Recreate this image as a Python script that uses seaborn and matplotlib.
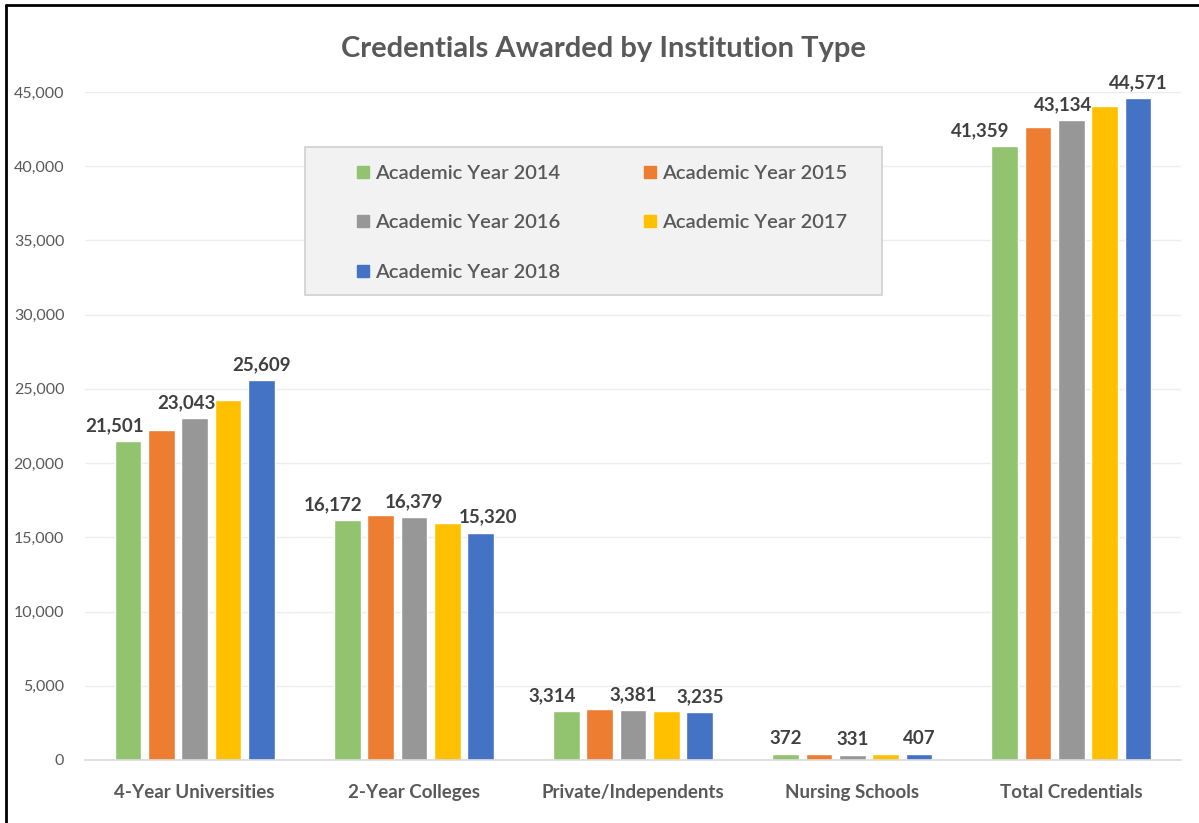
import pandas as pd
import matplotlib.pyplot as plt
import seaborn as sns
from matplotlib.ticker import FuncFormatter
from matplotlib.lines import Line2D
from matplotlib.patches import Rectangle

categories = ["4-Year Universities", "2-Year Colleges", "Private/Independents",
              "Nursing Schools", "Total Credentials"]
years = ["Academic Year 2014", "Academic Year 2015", "Academic Year 2016",
         "Academic Year 2017", "Academic Year 2018"]
ay2014 = [21501, 16172, 3314, 372, 41359]
ay2015 = [22200, 16530, 3400, 385, 42620]
ay2016 = [23043, 16379, 3381, 331, 43134]
ay2017 = [24280, 15950, 3320, 395, 44080]
ay2018 = [25609, 15320, 3235, 407, 44571]
labelled = ["Academic Year 2014", "Academic Year 2016", "Academic Year 2018"]

colors = ["#92C36F", "#ED7D31", "#979797", "#FFC000", "#4472C4"]
text_gray = "#595959"

# horizontal nudges (points) of the value labels, like Excel's placement
label_shift = {
    "Academic Year 2014": [-10, -10, -10, 0, -18],
    "Academic Year 2016": [-6, 0, 0, 0, -6],
    "Academic Year 2018": [0, 5, 0, 0, 0],
}

rows = []
for year, vals in zip(years, [ay2014, ay2015, ay2016, ay2017, ay2018]):
    for cat, v in zip(categories, vals):
        rows.append({"category": cat, "year": year, "value": v})
df = pd.DataFrame(rows)

sns.set_style("white")
plt.rcParams['font.family'] = ['Lato', 'DejaVu Sans']

fig = plt.figure(figsize=(11.99, 8.23), dpi=100)
ax = fig.add_axes([0.071, 0.0766, 0.914, 0.8116])

sns.barplot(data=df, x="category", y="value", hue="year", palette=colors,
            width=0.76, gap=0.2, ax=ax, legend=False, saturation=1)

ax.set_ylim(0, 45000)
ax.set_yticks(range(0, 45001, 5000))
ax.yaxis.set_major_formatter(FuncFormatter(lambda v, p: f"{int(v):,}"))
ax.grid(axis="y", color="#EDEDED", linewidth=1)
ax.set_axisbelow(True)
for s in ["top", "right", "left"]:
    ax.spines[s].set_visible(False)
ax.spines["bottom"].set_color("#D9D9D9")
ax.spines["bottom"].set_linewidth(1.2)
ax.tick_params(axis="y", length=0, labelsize=11.5, labelcolor=text_gray, pad=15)
ax.tick_params(axis="x", length=0, labelsize=13.5, labelcolor=text_gray, pad=17)
for t in ax.get_xticklabels():
    t.set_fontweight("bold")
ax.set_xlabel("")
ax.set_ylabel("")

for container, year in zip(ax.containers, years):
    if year in labelled:
        for bar, dx in zip(container, label_shift[year]):
            h = bar.get_height()
            ax.annotate(f"{int(h):,}", (bar.get_x() + bar.get_width() / 2, h),
                        xytext=(dx, 5), textcoords="offset points",
                        ha="center", va="bottom", fontsize=13.5,
                        fontweight="bold", color="#404040")

fig.text(0.503, 0.941, "Credentials Awarded by Institution Type", fontsize=21,
         fontweight="bold", color=text_gray, ha="center", va="center")

# legend box drawn separately so the entries can sit with Excel's padding
ax.add_patch(Rectangle((0.2007, 0.696), 0.5265, 0.2217, transform=ax.transAxes,
                       facecolor="#F2F2F2", edgecolor="#D0D0D0", linewidth=1.2,
                       zorder=4))
handles = [Line2D([0], [0], marker="s", linestyle="", markersize=9,
                  markerfacecolor=c, markeredgecolor=c) for c in colors]
order = [0, 2, 4, 1, 3]
leg = ax.legend([handles[i] for i in order], [years[i] for i in order], ncol=2,
                loc="upper left", bbox_to_anchor=(0.246, 0.891),
                fontsize=14.5, frameon=False, handlelength=0.8,
                handletextpad=0.2, labelspacing=1.6, borderpad=0,
                borderaxespad=0, columnspacing=4.05)
leg.set_zorder(5)
for t in leg.get_texts():
    t.set_color(text_gray)
    t.set_fontweight("semibold")

fig.add_artist(Line2D([0.005, 1.0], [0.994, 0.994], color="black", linewidth=2,
                      transform=fig.transFigure))
fig.add_artist(Line2D([0.005, 0.005], [0.0, 0.994], color="black", linewidth=2,
                      transform=fig.transFigure))

fig.savefig("out.png", dpi=100)
